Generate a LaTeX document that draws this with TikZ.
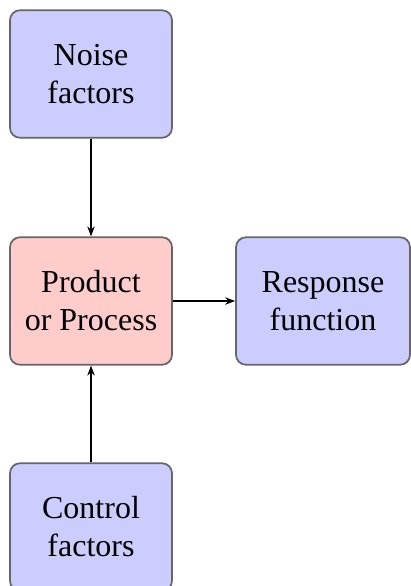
\documentclass[tikz,border=0pt]{standalone}
\usepackage{fontspec}
\setmainfont{Liberation Serif}
\usetikzlibrary{arrows.meta}
\tikzset{
  box/.style={draw=black!60, line width=0.7pt, rounded corners=4pt, align=center,
    minimum width=64.8pt, minimum height=51pt, inner sep=0pt,
    font=\fontsize{12.8}{15.2}\selectfont},
  bluebox/.style={box, fill=blue!20},
  redbox/.style={box, fill=red!20},
  conn/.style={-{Stealth[length=4pt,width=3pt]}, line width=0.5pt}
}
\begin{document}
\begin{tikzpicture}[x=0.4pt,y=-0.4pt]
\useasboundingbox (0,0) rectangle (411,586);
\node[bluebox] (noise) at (91,74) {Noise\\factors};
\node[redbox] (proc) at (91,301) {Product\\or Process};
\node[bluebox, minimum width=69.6pt] (resp) at (323,301) {Response\\function};
\node[bluebox] (ctrl) at (91,527) {Control\\factors};
\draw[conn] (noise) -- (proc);
\draw[conn] (proc) -- (resp);
\draw[conn] (ctrl) -- (proc);
\end{tikzpicture}
\end{document}
